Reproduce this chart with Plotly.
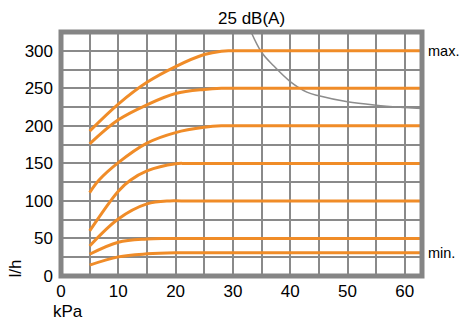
import plotly.graph_objects as go

# Pressure axis (kPa) and flow axis (l/h) tick positions and labels
x_ticks = [0, 5, 10, 15, 20, 25, 30, 35, 40, 45, 50, 55, 60]
x_labels = ["0", "", "10", "", "20", "", "30", "", "40", "", "50", "", "60"]
y_ticks = [0, 25, 50, 75, 100, 125, 150, 175, 200, 225, 250, 275, 300, 325]
y_labels = ["0", "", "50", "", "100", "", "150", "", "200", "", "250", "", "300", ""]

# Flow curves for each valve setting (kPa -> l/h)
max_kpa = [5, 10, 15, 20, 25, 28, 30, 63]
max_flow = [193, 229, 258, 279, 295, 299.5, 300, 300]

s250_kpa = [5, 10, 15, 20, 25, 28, 30, 63]
s250_flow = [176, 208, 228, 243, 248.5, 250, 250, 250]

s200_kpa = [5, 6.6, 10, 15, 20, 25, 28, 30, 63]
s200_flow = [111, 127.5, 151, 177, 191, 198, 200, 200, 200]

s150_kpa = [5, 10, 12.1, 15, 20, 22, 63]
s150_flow = [60, 113, 127.5, 140, 149.5, 150, 150]

s100_kpa = [5, 10, 15, 19, 21, 63]
s100_flow = [40, 76, 96, 100, 100, 100]

s50_kpa = [5, 10, 15, 18, 20, 63]
s50_flow = [29, 45, 49.3, 50, 50, 50]

min_kpa = [5, 10, 15, 20, 23, 63]
min_flow = [14.5, 25.5, 29.5, 31, 31, 31]

# 25 dB(A) noise limit
noise_kpa = [33.0, 35, 37.1, 40, 42.9, 45, 50, 55, 60, 63]
noise_flow = [328, 298, 280, 259, 245, 240, 232, 227.5, 224.5, 223]

ORANGE = "#F08C28"
GRID = "#8a8a8a"
FONT = "Liberation Sans, Arial, sans-serif"

fig = go.Figure()

fig.add_trace(go.Scatter(x=noise_kpa, y=noise_flow, mode="lines",
                         line=dict(color="#8c8c8c", width=1.5, shape="spline"),
                         hoverinfo="skip"))

for xs, ys in [(max_kpa, max_flow), (s250_kpa, s250_flow), (s200_kpa, s200_flow),
               (s150_kpa, s150_flow), (s100_kpa, s100_flow), (s50_kpa, s50_flow),
               (min_kpa, min_flow)]:
    fig.add_trace(go.Scatter(x=xs, y=ys, mode="lines",
                             line=dict(color=ORANGE, width=3, shape="spline", smoothing=1.0),
                             hoverinfo="skip"))

fig.update_layout(
    width=460, height=324,
    margin=dict(l=61, r=38, t=32, b=48),
    paper_bgcolor="white", plot_bgcolor="white",
    showlegend=False,
    font=dict(family=FONT, size=17, color="black"),
    xaxis=dict(range=[0, 63], tickvals=x_ticks, ticktext=x_labels,
               showgrid=True, gridcolor=GRID, gridwidth=2, zeroline=False,
               showline=False, ticks="", ticklabelstandoff=3, fixedrange=True),
    yaxis=dict(range=[0, 325], tickvals=y_ticks, ticktext=y_labels,
               showgrid=True, gridcolor=GRID, gridwidth=2, zeroline=False,
               showline=False, ticks="", ticklabelstandoff=7, fixedrange=True),
)

# Frame around the plotting area
fig.add_shape(type="rect", xref="paper", yref="paper", x0=0, y0=0, x1=1, y1=1,
              line=dict(color="#858585", width=5), layer="above")

fig.add_annotation(text="25 dB(A)", xref="x", yref="paper", x=33.2, y=1,
                   yshift=14, showarrow=False, xanchor="center", yanchor="middle",
                   font=dict(size=17))
fig.add_annotation(text="max.", xref="paper", yref="y", x=1, y=300, xshift=4,
                   showarrow=False, xanchor="left", yanchor="middle", font=dict(size=14.5))
fig.add_annotation(text="min.", xref="paper", yref="y", x=1, y=31, xshift=4,
                   showarrow=False, xanchor="left", yanchor="middle", font=dict(size=14.5))
fig.add_annotation(text="kPa", xref="x", yref="paper", x=1.2, y=0, yshift=-35,
                   showarrow=False, xanchor="center", yanchor="middle", font=dict(size=17))
fig.add_annotation(text="l/h", xref="paper", yref="y", x=-0.126, y=9.3, textangle=-90,
                   showarrow=False, xanchor="center", yanchor="middle", font=dict(size=17))

fig.write_html("out.html")
